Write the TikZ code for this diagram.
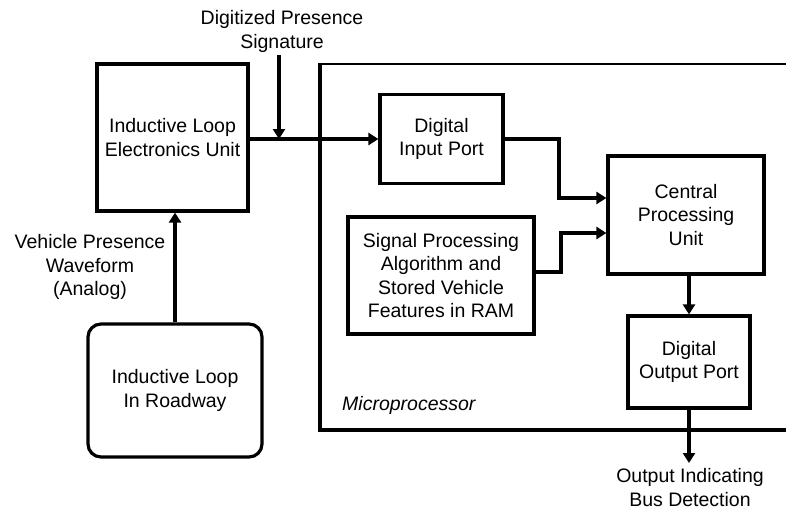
\documentclass[tikz,border=0pt]{standalone}
\usepackage{fontspec}
\setmainfont{Liberation Sans}
\usetikzlibrary{arrows.meta}
\begin{document}
\begin{tikzpicture}[x=1pt,y=-1pt,
  every node/.style={font=\fontsize{19.5}{23.5}\selectfont, align=center, inner sep=0pt},
  blk/.style={draw, line width=3.2pt, rectangle},
  rblk/.style={draw, line width=3.2pt, rectangle, rounded corners=13pt},
  lbl/.style={},
  arr/.style={line width=3.5pt, -{Triangle[length=10pt,width=12pt]}}
]
\useasboundingbox (0,0) rectangle (786,509);
% microprocessor frame
\draw[line width=1.5pt] (786,64) -- (320,64);
\draw[line width=3.2pt] (320,63) -- (320,430) -- (786,430);
\node[anchor=west, font=\fontsize{19.5}{23.5}\selectfont\itshape] (mlbl) at (342,405) {Microprocessor};

\node[blk, minimum width=151pt, minimum height=147pt] (elec) at (172.5,137.5) {Inductive Loop\\Electronics Unit};
\node[blk, minimum width=123pt, minimum height=89pt] (dip) at (441.5,139) {Digital\\Input Port};
\node[blk, minimum width=156pt, minimum height=118pt] (cpu) at (686,215) {Central\\Processing\\Unit};
\node[blk, minimum width=186pt, minimum height=117pt] (sp) at (441,275.5) {Signal Processing\\Algorithm and\\Stored Vehicle\\Features in RAM};
\node[blk, minimum width=122pt, minimum height=92pt] (dop) at (689,362) {Digital\\Output Port};
\node[rblk, minimum width=174pt, minimum height=133pt] (road) at (175,390.5) {Inductive Loop\\In Roadway};

\node[lbl] (dig) at (282,31.5) {Digitized Presence\\Signature};
\node[lbl] (veh) at (90,267) {Vehicle Presence\\Waveform\\(Analog)};
\node[lbl] (out) at (690,487.5) {Output Indicating\\Bus Detection};

\coordinate (digtop) at (279,55);
\coordinate (digend) at (279,139);
\coordinate (outend) at (689,463);

\draw[arr] (road.north) -- (road.north |- elec.south);
\draw[arr] (elec.east |- dip.west) -- (dip.west);
\draw[arr] (digtop) -- (digend);
\draw[arr] (dip.east) -| (559,198) -- (cpu.west |- 0,198);
\draw[arr] (sp.east |- 0,272) -| (561,233) -- (cpu.west |- 0,233);
\draw[arr] (dop.north |- cpu.south) -- (dop.north);
\draw[arr] (dop.south) -- (outend);
\end{tikzpicture}
\end{document}
